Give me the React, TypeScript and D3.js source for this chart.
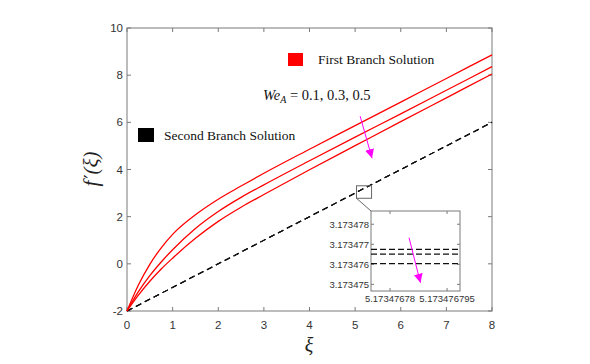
import React from "react";
import * as d3 from "d3";

// ---- data ----
const xi = [0, 0.25, 0.5, 0.75, 1, 1.5, 2, 2.5, 3, 4, 5, 6, 7, 8];
const firstWe01 = [-2, -0.9, -0.02, 0.68, 1.25, 2.08, 2.74, 3.3, 3.84, 4.86, 5.86, 6.86, 7.86, 8.86];
const firstWe03 = [-2, -1.18, -0.5, 0.08, 0.6, 1.5, 2.22, 2.82, 3.35, 4.37, 5.37, 6.36, 7.36, 8.36];
const firstWe05 = [-2, -1.33, -0.74, -0.22, 0.24, 1.08, 1.8, 2.4, 2.94, 3.99, 5.01, 6.03, 7.04, 8.05];
const secondXi = [0, 8];
const secondWe01 = [-2, 6.0];
const secondWe03 = [-2, 6.0];
const secondWe05 = [-2, 6.0];

const xTicks = [0, 1, 2, 3, 4, 5, 6, 7, 8];
const yTicks = [-2, 0, 2, 4, 6, 8, 10];

// inset (zoom) data
const insetXDomain = [5.173476775, 5.1734767984];
const insetYDomain = [3.17347467, 3.17347866];
const insetSecond = [3.17347675, 3.17347651, 3.17347604];
const insetXTicks = [5.17347678, 5.173476795];
const insetXTickLabels = ["5.17347678", "5.173476795"];
const insetYTicks = [3.173475, 3.173476, 3.173477, 3.173478];
const insetYTickLabels = ["3.173475", "3.173476", "3.173477", "3.173478"];
const zoomRectX = [5.03, 5.36];
const zoomRectY = [2.78, 3.31];

// annotations (data units)
const mainArrow = [[5.11, 6.26], [5.37, 4.48]];
const insetArrow = [[5.173476785, 3.17347733], [5.173476788, 3.17347508]];

const W = 590, H = 364;
const AX = "#7a7a7a";
const TXT = "#333333";

export default function App() {
  const x = d3.scaleLinear().domain([0, 8]).range([127, 492]);
  const y = d3.scaleLinear().domain([-2, 10]).range([311, 28]);
  const ix = d3.scaleLinear().domain(insetXDomain).range([371, 460]);
  const iy = d3.scaleLinear().domain(insetYDomain).range([291, 211]);

  const line = d3.line<[number, number]>().x(d => x(d[0])).y(d => y(d[1])).curve(d3.curveMonotoneX);
  const firstSeries = [firstWe01, firstWe03, firstWe05];
  const secondSeries = [secondWe01, secondWe03, secondWe05];

  const [x0, x1] = x.range();
  const [yb, yt] = y.range();
  const [ix0, ix1] = ix.range();
  const [iyb, iyt] = iy.range();

  const sans = "Liberation Sans, Arial, sans-serif";
  const serif = "Liberation Serif, Times New Roman, serif";

  return (
    <svg width={W} height={H} style={{ position: "fixed", left: 0, top: 0, background: "#fff" }}>
      <defs>
        <marker id="ah" viewBox="0 0 10 10" refX="10" refY="5" markerWidth="9" markerHeight="9" markerUnits="userSpaceOnUse" orient="auto">
          <path d="M0,0 L10,5 L0,10 z" fill="#ff00ff" />
        </marker>
      </defs>
      <rect width={W} height={H} fill="#fff" />

      {/* main axes box */}
      <rect x={x0} y={yt} width={x1 - x0} height={yb - yt} fill="none" stroke={AX} strokeWidth={1} />
      {xTicks.map(t => (
        <g key={"xt" + t}>
          <line x1={x(t)} x2={x(t)} y1={yb} y2={yb - 4} stroke={AX} />
          <line x1={x(t)} x2={x(t)} y1={yt} y2={yt + 4} stroke={AX} />
          <text x={x(t)} y={yb + 18} textAnchor="middle" fontFamily={sans} fontSize={11.5} fill={TXT}>{t}</text>
        </g>
      ))}
      {yTicks.map(t => (
        <g key={"yt" + t}>
          <line x1={x0} x2={x0 + 4} y1={y(t)} y2={y(t)} stroke={AX} />
          <line x1={x1} x2={x1 - 4} y1={y(t)} y2={y(t)} stroke={AX} />
          <text x={x0 - 4} y={y(t) + 4} textAnchor="end" fontFamily={sans} fontSize={11.5} fill={TXT}>{t}</text>
        </g>
      ))}

      {/* curves */}
      {secondSeries.map((s, i) => (
        <path key={"s" + i} d={line(secondXi.map((v, j) => [v, s[j]] as [number, number])) || ""} fill="none" stroke="#111" strokeWidth={1.1} strokeDasharray="6,4" />
      ))}
      {firstSeries.map((s, i) => (
        <path key={"f" + i} d={line(xi.map((v, j) => [v, s[j]] as [number, number])) || ""} fill="none" stroke="#ff0000" strokeWidth={1.3} />
      ))}

      {/* zoom rectangle & connector */}
      <rect x={x(zoomRectX[0])} y={y(zoomRectY[1])} width={x(zoomRectX[1]) - x(zoomRectX[0])} height={y(zoomRectY[0]) - y(zoomRectY[1])} fill="none" stroke="#666" strokeWidth={1} />
      <line x1={x(zoomRectX[0])} y1={y(zoomRectY[0])} x2={ix0} y2={iyt} stroke="#666" strokeWidth={1} />

      {/* inset */}
      <rect x={ix0} y={iyt} width={ix1 - ix0} height={iyb - iyt} fill="#fff" stroke={AX} strokeWidth={1} />
      {insetXTicks.map((t, i) => (
        <g key={"ixt" + i}>
          <line x1={ix(t)} x2={ix(t)} y1={iyb} y2={iyb - 3} stroke={AX} />
          <line x1={ix(t)} x2={ix(t)} y1={iyt} y2={iyt + 3} stroke={AX} />
          <text x={ix(t)} y={iyb + 11} textAnchor="middle" fontFamily={sans} fontSize={9.5} fill={TXT}>{insetXTickLabels[i]}</text>
        </g>
      ))}
      {insetYTicks.map((t, i) => (
        <g key={"iyt" + i}>
          <line x1={ix0} x2={ix0 + 3} y1={iy(t)} y2={iy(t)} stroke={AX} />
          <line x1={ix1} x2={ix1 - 3} y1={iy(t)} y2={iy(t)} stroke={AX} />
          <text x={ix0 - 2} y={iy(t) + 3.5} textAnchor="end" fontFamily={sans} fontSize={9.5} fill={TXT}>{insetYTickLabels[i]}</text>
        </g>
      ))}
      {insetSecond.map((v, i) => (
        <line key={"is" + i} x1={ix0} x2={ix1} y1={iy(v)} y2={iy(v)} stroke="#111" strokeWidth={1.3} strokeDasharray="6,3" />
      ))}
      <line x1={ix(insetArrow[0][0])} y1={iy(insetArrow[0][1])} x2={ix(insetArrow[1][0])} y2={iy(insetArrow[1][1])} stroke="#ff00ff" strokeWidth={1} markerEnd="url(#ah)" />

      {/* main arrow */}
      <line x1={x(mainArrow[0][0])} y1={y(mainArrow[0][1])} x2={x(mainArrow[1][0])} y2={y(mainArrow[1][1])} stroke="#ff00ff" strokeWidth={1} markerEnd="url(#ah)" />

      {/* legend */}
      <rect x={288} y={53} width={15} height={13} fill="#ff0000" />
      <text x={318} y={64} fontFamily={serif} fontSize={13.5} fill="#111">First Branch Solution</text>
      <rect x={138} y={128} width={16} height={14} fill="#000" />
      <text x={164} y={139.5} fontFamily={serif} fontSize={13.5} fill="#111">Second Branch Solution</text>

      {/* We_A annotation */}
      <text x={263} y={100} fontFamily={serif} fontSize={14.5} fill="#111">
        <tspan fontStyle="italic">We</tspan>
        <tspan fontStyle="italic" fontSize={10} dy={3}>A</tspan>
        <tspan dy={-3}> = 0.1, 0.3, 0.5</tspan>
      </text>

      {/* axis labels */}
      <text x={309} y={352} textAnchor="middle" fontFamily={serif} fontStyle="italic" fontSize={20} fill="#222">ξ</text>
      <text transform="translate(98,169) rotate(-90)" textAnchor="middle" fontFamily={serif} fontSize={21} fill="#222">
        <tspan fontStyle="italic">f</tspan><tspan fontFamily="DejaVu Serif, serif" fontSize={18} dx={2}>′</tspan><tspan fontStyle="italic">(ξ)</tspan>
      </text>
    </svg>
  );
}
